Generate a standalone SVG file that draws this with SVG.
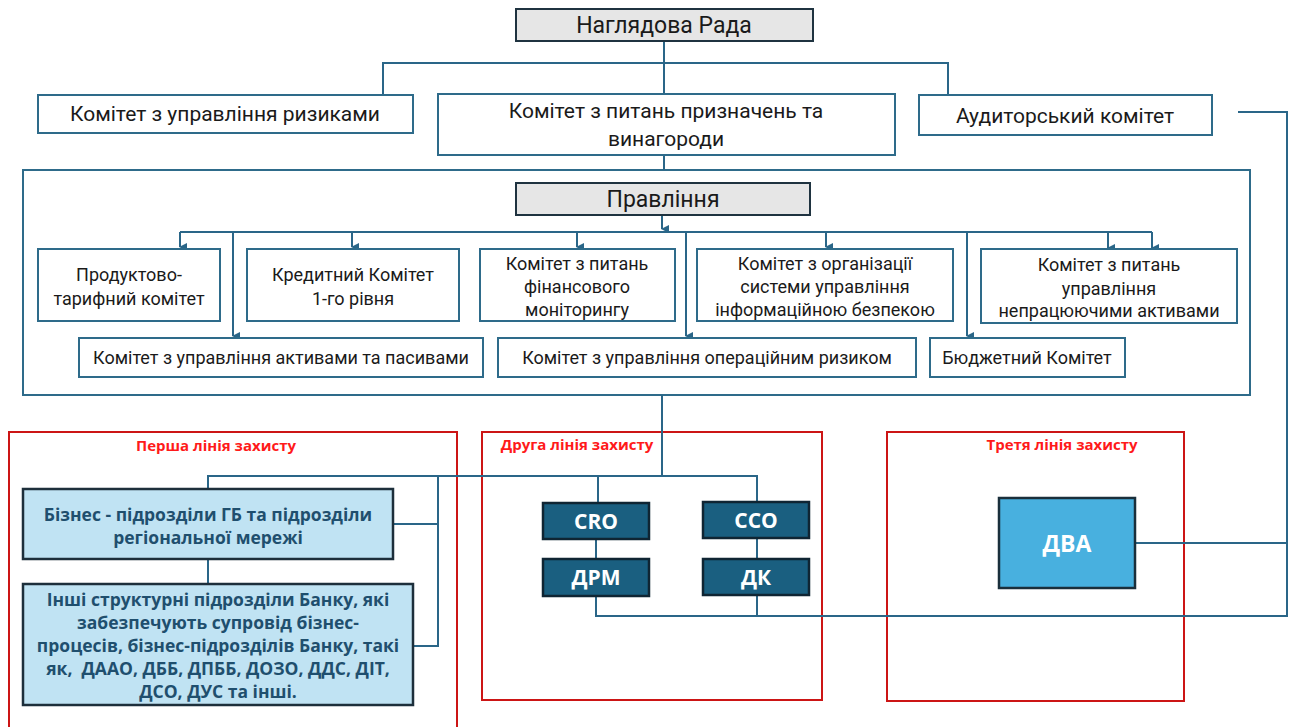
<svg xmlns="http://www.w3.org/2000/svg" width="1293" height="727" viewBox="0 0 1293 727">
<defs>
<marker id="arr" markerWidth="8" markerHeight="8" refX="4" refY="7" orient="auto" markerUnits="userSpaceOnUse" viewBox="0 0 8 8">
<path d="M0,0 L8,0 L4,8 Z" fill="#2a6688"/>
</marker>
<style>
.conn{fill:none;stroke:#2a6688;stroke-width:2}
.box{fill:#fff;stroke:#2e6b8a;stroke-width:2}
.outer{fill:none;stroke:#2e6b8a;stroke-width:2}
.gray{fill:#e6e6e6;stroke:#1f3340;stroke-width:2}
.red{fill:none;stroke:#cc1515;stroke-width:2}
.t{font-family:Roboto,"Liberation Sans",sans-serif;fill:#1a1a1a;text-anchor:middle}
.t17{font-size:21px}
.t15{font-size:18px}
.tbig{font-size:23px}
.lbl{font-family:"Open Sans","Liberation Sans",sans-serif;font-weight:bold;font-size:15px;fill:#ff1a1a;text-anchor:middle}
.lb{fill:#c0e3f3;stroke:#1d2f3b;stroke-width:2.5}
.lbt{font-family:"Open Sans","Liberation Sans",sans-serif;font-weight:bold;font-size:17.5px;fill:#1f4f6e;text-anchor:middle}
.db{fill:#1a5f80;stroke:#0f2533;stroke-width:2.5}
.dbt{font-family:"Open Sans","Liberation Sans",sans-serif;font-weight:bold;font-size:21px;fill:#fff;text-anchor:middle}
.sb{fill:#48b0df;stroke:#1a2f3b;stroke-width:2.5}
</style>
</defs>
<rect width="1293" height="727" fill="#fff"/>

<g id="red-boxes">
<rect id="line1" class="red" x="9" y="432" width="448" height="300"/>
<rect id="line2" class="red" x="482" y="432" width="340" height="268"/>
<rect id="line3" class="red" x="887" y="432" width="297" height="269"/>
<text class="lbl" x="216" y="451">Перша лінія захисту</text>
<text class="lbl" x="577" y="450">Друга лінія захисту</text>
<text class="lbl" x="1062" y="450">Третя лінія захисту</text>
</g>

<g id="n-pravlinnia-outer">
<rect class="outer" x="23" y="170" width="1227" height="225"/>
</g>

<g id="connectors">
<path class="conn" d="M664,41 V95 M383,95 V63 H948 V95"/>
<path class="conn" d="M664,155 V170"/>
<path class="conn" d="M662,215 V229" marker-end="url(#arr)"/>
<path class="conn" d="M180,232 H1152"/>
<path class="conn" d="M180,232 V247" marker-end="url(#arr)"/>
<path class="conn" d="M352,232 V247" marker-end="url(#arr)"/>
<path class="conn" d="M577,232 V247" marker-end="url(#arr)"/>
<path class="conn" d="M826,232 V247" marker-end="url(#arr)"/>
<path class="conn" d="M1108,232 V248" marker-end="url(#arr)"/>
<path class="conn" d="M1152,232 V248" marker-end="url(#arr)"/>
<path class="conn" d="M233,232 V336" marker-end="url(#arr)"/>
<path class="conn" d="M686,232 V336" marker-end="url(#arr)"/>
<path class="conn" d="M967,232 V336" marker-end="url(#arr)"/>
<path class="conn" d="M662,395 V476"/>
<path class="conn" d="M208,489 V476 H757 V502 M598,476 V503"/>
<path class="conn" d="M438,476 V646 H413 M393,524 H438"/>
<path class="conn" d="M208,559 V584"/>
<path class="conn" d="M596,539 V559 M757,538 V559"/>
<path class="conn" d="M596,596 V616 H1287 V112 H1238 M757,595 V616"/>
<path class="conn" d="M1135,543 H1287"/>
</g>

<g id="n-nagliadova">
<rect class="gray" x="516" y="9" width="297" height="32"/>
<text class="t tbig" x="664" y="33">Наглядова Рада</text>
</g>
<g id="n-rysky">
<rect class="box" x="38" y="95" width="375" height="38"/>
<text class="t t17" x="225" y="121">Комітет з управління ризиками</text>
</g>
<g id="n-pryznachennia">
<rect class="box" x="438" y="94" width="457" height="61"/>
<text class="t t17" x="666" y="118">Комітет з питань призначень та</text>
<text class="t t17" x="666" y="146">винагороди</text>
</g>
<g id="n-audyt">
<rect class="box" x="919" y="95" width="293" height="40"/>
<text class="t t17" x="1065" y="123">Аудиторський комітет</text>
</g>

<g id="n-pravlinnia">
<rect class="gray" x="516" y="183" width="294" height="32"/>
<text class="t tbig" x="663" y="207">Правління</text>
</g>

<g id="n-produkt">
<rect class="box" x="38" y="249" width="182" height="72"/>
<text class="t t15" x="129" y="281">Продуктово-</text>
<text class="t t15" x="129" y="305">тарифний комітет</text>
</g>
<g id="n-kredyt">
<rect class="box" x="247" y="249" width="212" height="72"/>
<text class="t t15" x="353" y="281">Кредитний Комітет</text>
<text class="t t15" x="353" y="305">1-го рівня</text>
</g>
<g id="n-finmon">
<rect class="box" x="480" y="249" width="195" height="72"/>
<text class="t t15" x="577" y="270">Комітет з питань</text>
<text class="t t15" x="577" y="293">фінансового</text>
<text class="t t15" x="577" y="316">моніторингу</text>
</g>
<g id="n-infobez">
<rect class="box" x="697" y="249" width="256" height="72"/>
<text class="t t15" x="825" y="270">Комітет з організації</text>
<text class="t t15" x="825" y="293">системи управління</text>
<text class="t t15" x="825" y="316">інформаційною безпекою</text>
</g>
<g id="n-nepratsiuiuchi">
<rect class="box" x="981" y="249" width="256" height="74"/>
<text class="t t15" x="1109" y="271">Комітет з питань</text>
<text class="t t15" x="1109" y="295">управління</text>
<text class="t t15" x="1109" y="317">непрацюючими активами</text>
</g>
<g id="n-aktyvy">
<rect class="box" x="79" y="338" width="404" height="39"/>
<text class="t t15" x="281" y="364">Комітет з управління активами та пасивами</text>
</g>
<g id="n-operrisk">
<rect class="box" x="498" y="338" width="418" height="39"/>
<text class="t t15" x="707" y="364">Комітет з управління операційним ризиком</text>
</g>
<g id="n-biudzhet">
<rect class="box" x="930" y="338" width="195" height="39"/>
<text class="t t15" x="1027" y="364">Бюджетний Комітет</text>
</g>

<g id="n-biznes">
<rect class="lb" x="23" y="489" width="370" height="70"/>
<text class="lbt" x="208" y="521">Бізнес - підрозділи ГБ та підрозділи</text>
<text class="lbt" x="208" y="544">регіональної мережі</text>
</g>
<g id="n-inshi">
<rect class="lb" x="23" y="584" width="390" height="121"/>
<text class="lbt" x="218" y="606">Інші структурні підрозділи Банку, які</text>
<text class="lbt" x="218" y="629">забезпечують супровід бізнес-</text>
<text class="lbt" x="218" y="652">процесів, бізнес-підрозділів Банку, такі</text>
<text class="lbt" x="218" y="675" xml:space="preserve">як,  ДААО, ДББ, ДПББ, ДОЗО, ДДС, ДІТ,</text>
<text class="lbt" x="218" y="698">ДСО, ДУС та інші.</text>
</g>

<g id="n-cro">
<rect class="db" x="543" y="503" width="106" height="36"/>
<text class="dbt" x="596" y="529">CRO</text>
</g>
<g id="n-drm">
<rect class="db" x="543" y="559" width="106" height="37"/>
<text class="dbt" x="596" y="585">ДРМ</text>
</g>
<g id="n-cco">
<rect class="db" x="703" y="502" width="106" height="36"/>
<text class="dbt" x="756" y="528">CCO</text>
</g>
<g id="n-dk">
<rect class="db" x="703" y="559" width="106" height="36"/>
<text class="dbt" x="756" y="585">ДК</text>
</g>
<g id="n-dva">
<rect class="sb" x="999" y="498" width="136" height="90"/>
<text class="dbt" x="1067" y="552" style="font-size:23px">ДВА</text>
</g>
</svg>
